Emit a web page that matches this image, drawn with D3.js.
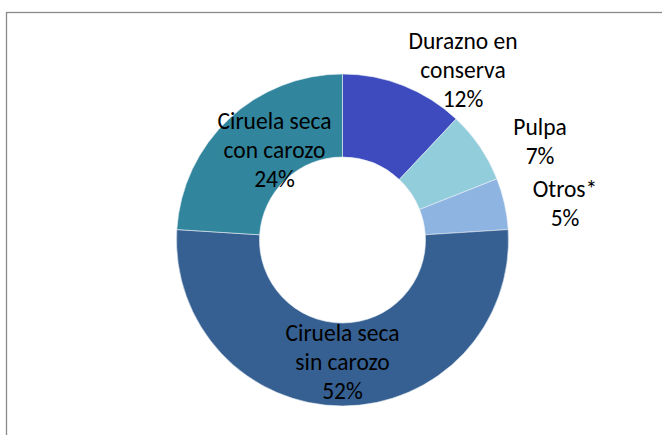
<!DOCTYPE html>
<html>
<head>
<meta charset="utf-8">
<script src="https://cdn.jsdelivr.net/npm/d3@7"></script>
<style>
  html, body { margin: 0; padding: 0; background: #fff; }
  svg { display: block; }
  text { font-family: Carlito, Lato, "Liberation Sans", sans-serif; font-size: 23.5px; fill: #000; }
</style>
</head>
<body>
<svg id="chart" width="662" height="435"></svg>
<script>
// ---- data ----
const categories = ["Durazno en\nconserva", "Pulpa", "Otros*", "Ciruela seca\nsin carozo", "Ciruela seca\ncon carozo"];
const values = [12, 7, 5, 52, 24];
const colors = ["#3D4BBF", "#92CDDC", "#8EB4E2", "#366092", "#31859C"];

// ---- layout ----
const W = 662, H = 435;
const cx = 342.5, cy = 240;
const outerR = 166, innerR = 83;
const lineH = 29;
// label block centres (mean baseline) relative to the donut centre
const labelOffsets = [[120.5, -162], [197.5, -91], [222.5, -29], [0, 130], [-68, -82]];

const svg = d3.select("#chart");

// chart frame
svg.append("rect")
  .attr("x", 6.5).attr("y", 12.5)
  .attr("width", W + 20).attr("height", H + 20)
  .attr("fill", "none").attr("stroke", "#898989").attr("stroke-width", 1.3);

const data = categories.map((c, i) => ({ name: c, value: values[i], color: colors[i] }));
const total = d3.sum(values);

const pie = d3.pie().value(d => d.value).sort(null);
const arc = d3.arc().innerRadius(innerR).outerRadius(outerR);

const g = svg.append("g").attr("transform", `translate(${cx},${cy})`);

const arcs = pie(data);
g.selectAll("path.slice")
  .data(arcs)
  .enter().append("path")
  .attr("class", "slice")
  .attr("d", arc)
  .attr("fill", d => d.data.color)
  .attr("stroke", "#e8eef5")
  .attr("stroke-width", 0.6);

const labels = g.selectAll("text.lbl")
  .data(arcs)
  .enter().append("text")
  .attr("class", "lbl")
  .attr("text-anchor", "middle");

labels.each(function(d, i) {
  const lines = d.data.name.split("\n").concat([Math.round(d.data.value / total * 100) + "%"]);
  const [ox, oy] = labelOffsets[i];
  const n = lines.length;
  d3.select(this).selectAll("tspan")
    .data(lines)
    .enter().append("tspan")
    .attr("x", ox)
    .attr("y", (l, j) => oy + (j - (n - 1) / 2) * lineH)
    .text(l => l);
});
</script>
</body>
</html>
